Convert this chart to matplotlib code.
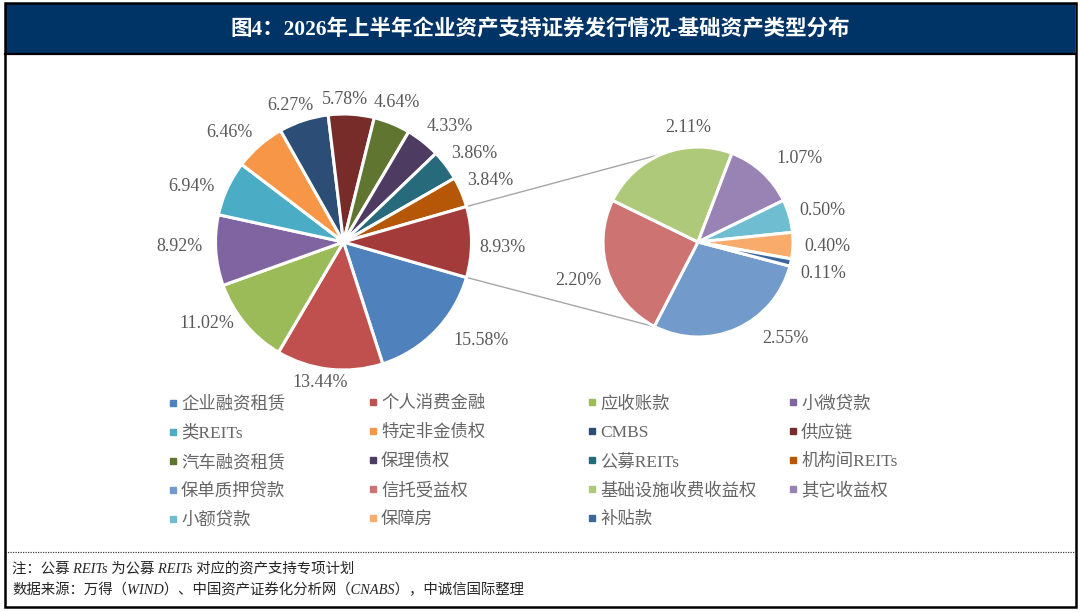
import matplotlib
matplotlib.use('Agg')
import matplotlib.pyplot as plt
import numpy as np
from matplotlib.patches import Rectangle
from matplotlib.lines import Line2D
from matplotlib.legend import Legend

# ---------------- data ----------------
title = "图4：2026年上半年企业资产支持证券发行情况-基础资产类型分布"
main_labels = ['企业融资租赁', '个人消费金融', '应收账款', '小微贷款', '类REITs', '特定非金债权',
               'CMBS', '供应链', '汽车融资租赁', '保理债权', '公募REITs', '机构间REITs']
main_values = [15.58, 13.44, 11.02, 8.92, 6.94, 6.46, 6.27, 5.78, 4.64, 4.33, 3.86, 3.84]
other_value = 8.93
sub_labels = ['保单质押贷款', '信托受益权', '基础设施收费收益权', '其它收益权', '小额贷款', '保障房', '补贴款']
sub_values = [2.55, 2.20, 2.11, 1.07, 0.50, 0.40, 0.11]
note_lines = ["注：公募 REITs 为公募 REITs 对应的资产支持专项计划",
              "数据来源：万得（WIND）、中国资产证券化分析网（CNABS），中诚信国际整理"]

# ---------------- styles ----------------
main_colors = ['#4F81BD', '#C0504D', '#9BBB59', '#8064A2', '#4BACC6', '#F79646',
               '#2C4D75', '#772C2A', '#5F7530', '#4D3B62', '#276A7C', '#B65708']
other_color = '#A23B3A'
sub_colors = ['#729ACA', '#CD7371', '#AFC97A', '#9983B5', '#6FBDD1', '#F9AB6B', '#3A679C']

W, H = 1080, 612
def Y(y):
    return H - y

MIX = ['Liberation Serif', 'Noto Sans CJK SC']
lab_color = '#595959'
leg_color = '#666666'

fig = plt.figure(figsize=(W / 100, H / 100), dpi=100)
fig.patch.set_facecolor('white')
ax = fig.add_axes([0, 0, 1, 1])

main_c = (343.5, Y(242)); main_r = 128
sub_c = (698, Y(242)); sub_r = 95

vals = main_values + [other_value]
start_main = -other_value / sum(vals) * 180.0
wedges_m, _ = ax.pie(vals, colors=main_colors + [other_color], center=main_c, radius=main_r,
                     startangle=start_main, counterclock=False,
                     wedgeprops=dict(edgecolor='white', linewidth=2.2))
wedges_s, _ = ax.pie(sub_values, colors=sub_colors, center=sub_c, radius=sub_r,
                     startangle=-14.7, counterclock=False,
                     wedgeprops=dict(edgecolor='white', linewidth=2.2))

# data labels (placed relative to each wedge's mid-angle)
main_off = [8.3, -3.1, -8.6, -1.9, 5.3, 5.1, 3.3, 2.9, 1.1, -4.6, -3.1, -0.7, -2.5]
main_dist = [169.4, 143, 159.2, 163.6, 161.8, 157.4, 146.1, 142, 148, 156, 156.8, 158.3, 158.7]
for w, v, off, d in zip(wedges_m, vals, main_off, main_dist):
    mid = np.deg2rad((w.theta1 + w.theta2) / 2 + off)
    ax.text(main_c[0] + d * np.cos(mid), main_c[1] + d * np.sin(mid) + 1, f"{v:.2f}%",
            ha='center', va='center', fontsize=13, color=lab_color, family='Liberation Serif')

sub_off = [17.9, 0.1, -16.5, -8.6, -2.3, -0.4, -2.3]
sub_dist = [130.3, 126.5, 114.4, 130.9, 127.6, 129.1, 129.3]
for w, v, off, d in zip(wedges_s, sub_values, sub_off, sub_dist):
    mid = np.deg2rad((w.theta1 + w.theta2) / 2 + off)
    ax.text(sub_c[0] + d * np.cos(mid), sub_c[1] + d * np.sin(mid) + 1, f"{v:.2f}%",
            ha='center', va='center', fontsize=13, color=lab_color, family='Liberation Serif')

# connector lines
ow = wedges_m[-1]
for a_main, a_sub in [(ow.theta2, 111.9), (ow.theta1, -116.5)]:
    p1 = (main_c[0] + main_r * np.cos(np.deg2rad(a_main)), main_c[1] + main_r * np.sin(np.deg2rad(a_main)))
    p2 = (sub_c[0] + sub_r * np.cos(np.deg2rad(a_sub)), sub_c[1] + sub_r * np.sin(np.deg2rad(a_sub)))
    ax.plot([p1[0], p2[0]], [p1[1], p2[1]], color='#A6A6A6', lw=1.0, zorder=0.5)

# legend: row-major, 4 columns
all_labels = main_labels + sub_labels
all_colors = main_colors + sub_colors
col_x = [168, 368, 587, 788]
for ci in range(4):
    idx = list(range(ci, len(all_labels), 4))
    handles = [Line2D([], [], marker='s', markersize=4.2, linestyle='none',
                      color=all_colors[i]) for i in idx]
    leg = Legend(ax, handles, [all_labels[i] for i in idx], loc='upper left',
                 bbox_to_anchor=(col_x[ci], Y(396)), bbox_transform=ax.transData,
                 frameon=False, borderpad=0, borderaxespad=0, handlelength=0.6,
                 handletextpad=0.15, labelspacing=0.72,
                 prop=dict(family=MIX, size=12.5), labelcolor=leg_color)
    ax.add_artist(leg)

# frame, title bar, notes
ax.add_patch(Rectangle((5, Y(53)), 1070, 49, facecolor='#003366', edgecolor='none', zorder=1))
ax.plot([5, 1075], [Y(54), Y(54)], color='black', lw=1.6)
ax.add_patch(Rectangle((4.5, Y(607)), 1071, 604, facecolor='none', edgecolor='black', lw=1.8, zorder=3))
ax.text(540, Y(29), title, ha='center', va='center', fontsize=15.5, fontweight='bold',
        color='white', family=MIX, zorder=4)
ax.plot([5, 1075], [Y(552), Y(552)], color='#404040', lw=0.9, linestyle=(0, (1, 1)))
ax.text(12, Y(568), note_lines[0], ha='left', va='center', fontsize=10.4, style='italic',
        color='#262626', family=MIX)
ax.text(12, Y(590), note_lines[1], ha='left', va='center', fontsize=10.4, style='italic',
        color='#262626', family=MIX)

ax.set_xlim(0, W)
ax.set_ylim(0, H)
ax.set_aspect('equal')
ax.axis('off')
fig.savefig('out.png', dpi=100, facecolor='white')
